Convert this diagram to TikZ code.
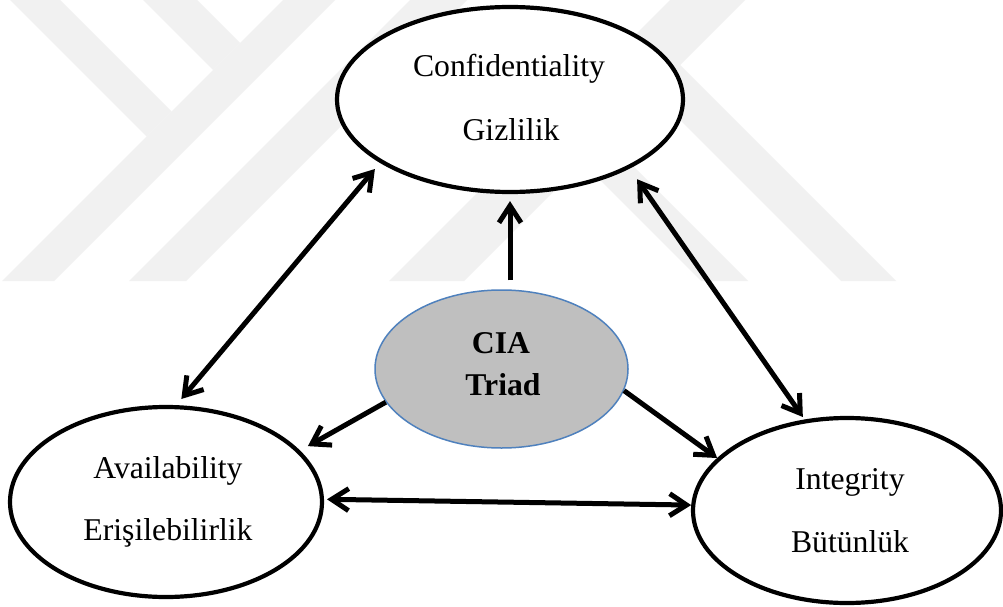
\documentclass[tikz,border=0pt]{standalone}
\usepackage{fontspec}
\setmainfont{Liberation Serif}
\usetikzlibrary{arrows.meta,shapes.geometric,calc}
\definecolor{wm}{RGB}{241,241,241}
\definecolor{ciafill}{RGB}{191,191,191}
\definecolor{ciaedge}{RGB}{79,129,189}
\begin{document}
\begin{tikzpicture}[x=1pt,y=-1pt,
  bigell/.style={ellipse, draw=black, line width=4.2pt, fill=white, inner sep=0pt},
  ciaell/.style={ellipse, draw=ciaedge, line width=1.5pt, fill=ciafill, inner sep=0pt},
  lbl/.style={anchor=base, inner sep=0pt, font=\fontsize{31.7}{38}\selectfont},
  blbl/.style={anchor=base, inner sep=0pt, font=\fontsize{31.7}{38}\selectfont\bfseries},
  barb/.tip={Straight Barb[length=17pt,width=22pt]},
  arr/.style={line width=5pt, -barb},
  dbl/.style={line width=5pt, barb-barb},
  wmark/.style={fill=wm, draw=none}]
% canvas
\fill[white] (0,0) rectangle (1003,607);
\path[use as bounding box] (0,0) rectangle (1003,607);
% faint watermark
\begin{scope}
  \clip (0,0) rectangle (1003,281);
  \fill[wmark] (283,0) -- (335,0) -- (54,281) -- (2,281) -- cycle;
  \fill[wmark] (10,0) -- (60,0) -- (171.5,111.5) -- (146.5,136.5) -- cycle;
  \fill[wmark] (143,0) -- (197,0) -- (240,43) -- (213,70) -- cycle;
  \fill[wmark] (410,0) -- (467,0) -- (186,281) -- (129,281) -- cycle;
  \fill[wmark] (670,0) -- (745,0) -- (464,281) -- (389,281) -- cycle;
  \fill[wmark] (652.5,92.5) -- (680,65) -- (896,281) -- (841,281) -- cycle;
  \fill[wmark] (582.5,162.5) -- (606,139) -- (748,281) -- (701,281) -- cycle;
\end{scope}
% nodes
\node[bigell, minimum width=346pt, minimum height=185pt] (conf) at (510,99.5) {};
\node[bigell, minimum width=312pt, minimum height=190pt] (avail) at (166,502) {};
\node[bigell, minimum width=308pt, minimum height=185pt] (integ) at (847,510.5) {};
\node[ciaell, minimum width=253pt, minimum height=158pt] (cia) at (501.5,369) {};
% labels
\node[lbl] (confA) at (509,77) {Confidentiality};
\node[lbl] (confB) at (511,140) {Gizlilik};
\node[lbl] (availA) at (168,478) {Availability};
\node[lbl] (availB) at (168,540) {Erişilebilirlik};
\node[lbl] (integA) at (850,489) {Integrity};
\node[lbl] (integB) at (850,552) {Bütünlük};
\node[blbl] (ciaA) at (501,353) {CIA};
\node[blbl] (ciaB) at (503,395) {Triad};
% connectors
\draw[arr, shorten <=9pt, shorten >=7pt] (cia.north -| conf.south) -- (conf.south);
\draw[dbl, shorten <=8pt, shorten >=8pt] (avail.84) -- (conf.206);
\draw[dbl, shorten <=13pt, shorten >=3pt] (conf.330.5) -- (integ.115.6);
\draw[arr, shorten >=9pt] (cia.196.2) -- (avail.21.5);
\draw[arr] (cia.350.1) -- (integ.158.8);
\draw[dbl, shorten <=3pt] (avail.1) -- (integ.178);
\end{tikzpicture}
\end{document}
